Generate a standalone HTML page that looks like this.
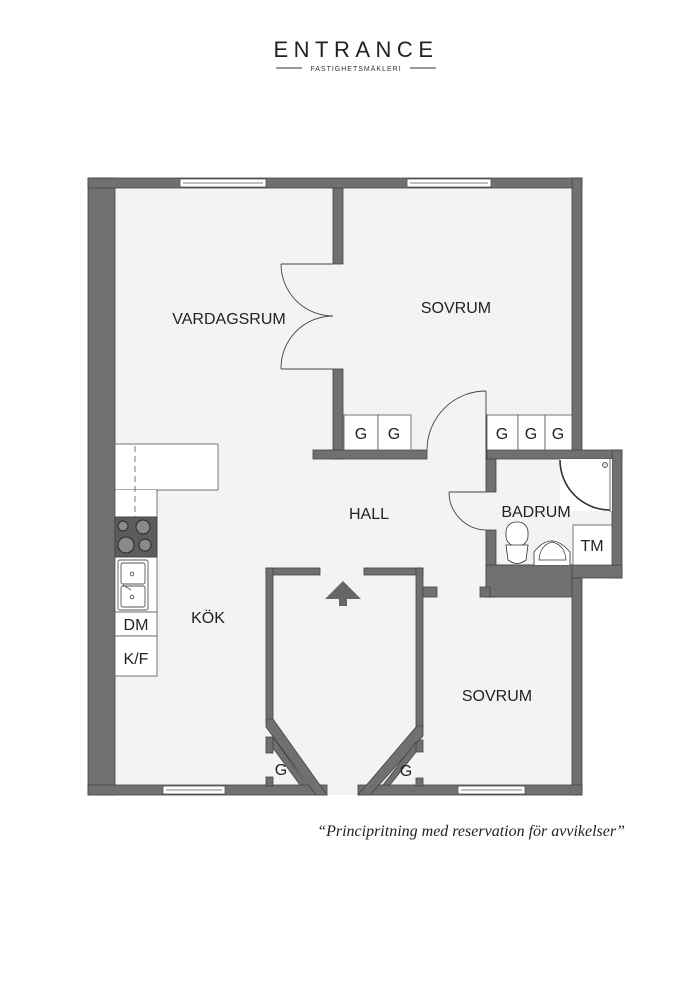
<!DOCTYPE html>
<html><head><meta charset="utf-8"><style>
html,body{margin:0;padding:0;background:#fff;}
svg{display:block}
</style></head><body>
<svg width="700" height="991" viewBox="0 0 700 991" xmlns="http://www.w3.org/2000/svg" font-family="'Liberation Sans', sans-serif">
<!-- header -->
<text x="356" y="57" text-anchor="middle" font-size="22" letter-spacing="5.5" fill="#222">ENTRANCE</text>
<line x1="276" y1="68" x2="302" y2="68" stroke="#333" stroke-width="1"/>
<line x1="410" y1="68" x2="436" y2="68" stroke="#333" stroke-width="1"/>
<text x="356" y="71" text-anchor="middle" font-size="7" letter-spacing="1" fill="#333">FASTIGHETSMÄKLERI</text>

<!-- floor -->
<rect x="88" y="178" width="494" height="617" fill="#f3f3f3"/>
<rect x="486" y="450" width="136" height="128" fill="#f3f3f3"/>

<g fill="#707070" stroke="#444" stroke-width="0.8">
<rect x="88" y="178" width="27" height="617"/>
<rect x="88" y="178" width="494" height="10"/>
<rect x="572" y="178" width="10" height="272"/>
<rect x="572" y="578" width="10" height="217"/>
<rect x="88" y="785" width="239" height="10"/>
<rect x="358" y="785" width="224" height="10"/>
<rect x="333" y="188" width="10" height="76"/>
<rect x="333" y="369" width="10" height="90"/>
<rect x="313" y="450" width="114" height="9"/>
<rect x="486" y="450" width="136" height="9"/>
<rect x="486" y="415" width="1" height="44"/>
<rect x="612" y="450" width="10" height="128"/>
<rect x="486" y="459" width="10" height="33"/>
<rect x="486" y="530" width="10" height="67"/>
<rect x="486" y="565" width="136" height="13"/>
<rect x="486" y="565" width="86" height="32"/>
<rect x="480" y="587" width="10" height="10"/>
<rect x="266" y="568" width="54" height="7"/>
<rect x="266" y="568" width="7" height="153"/>
<rect x="364" y="568" width="59" height="7"/>
<rect x="416" y="568" width="7" height="160"/>
<rect x="423" y="587" width="14" height="10"/>
<rect x="266" y="737" width="7" height="16"/>
<rect x="266" y="777" width="7" height="9"/>
<rect x="416" y="740" width="7" height="12"/>
<rect x="416" y="778" width="7" height="8"/>
<polygon points="266,719 273,719 327,795 316,795 266,727"/>
<polygon points="416,727 423,725 423,736 370,795 358,795"/>
<polygon points="273,737 307,785 300,785 273,748"/>
<polygon points="416,742 383,785 390,785 416,752"/>
</g>

<g fill="#fff" stroke="#555" stroke-width="0.8">
<rect x="180" y="179" width="86" height="8"/>
<line x1="183" y1="183" x2="263" y2="183"/>
<rect x="407" y="179" width="84" height="8"/>
<line x1="410" y1="183" x2="488" y2="183"/>
<rect x="163" y="786" width="62" height="8"/>
<line x1="166" y1="790" x2="222" y2="790"/>
<rect x="458" y="786" width="67" height="8"/>
<line x1="461" y1="790" x2="522" y2="790"/>
</g>

<g fill="none" stroke="#444" stroke-width="0.9">
<line x1="281" y1="264" x2="333" y2="264"/>
<path d="M281,264 A52,52 0 0 0 333,316"/>
<line x1="281" y1="369" x2="333" y2="369"/>
<path d="M281,369 A52,52 0 0 1 333,316"/>
<line x1="486" y1="391" x2="486" y2="450"/>
<path d="M486,391 A59,59 0 0 0 427,450"/>
<line x1="449" y1="492" x2="486" y2="492"/>
<path d="M449,492 A38,38 0 0 0 486,530"/>
</g>

<g fill="#fff" stroke="#555" stroke-width="0.8">
<rect x="344" y="415" width="34" height="35"/>
<rect x="378" y="415" width="33" height="35"/>
<rect x="487" y="415" width="31" height="35"/>
<rect x="518" y="415" width="27" height="35"/>
<rect x="545" y="415" width="27" height="35"/>
<rect x="573" y="525" width="39" height="40"/>
<rect x="115" y="444" width="103" height="46"/>
<rect x="115" y="490" width="42" height="27"/>
<rect x="115" y="557" width="42" height="55"/>
<rect x="115" y="612" width="42" height="24"/>
<rect x="115" y="636" width="42" height="40"/>
</g>
<rect x="116" y="490" width="40" height="2" fill="#fff"/>
<line x1="135" y1="446" x2="135" y2="517" stroke="#555" stroke-width="0.8" stroke-dasharray="6,4"/>
<rect x="115" y="517" width="42" height="40" fill="#5c5c5c" stroke="#444"/>
<g fill="#8a8a8a" stroke="#333" stroke-width="1.2">
<circle cx="123" cy="526" r="5"/><circle cx="143" cy="527" r="7"/>
<circle cx="126" cy="545" r="8"/><circle cx="145" cy="545" r="6"/>
</g>
<g fill="none" stroke="#555" stroke-width="0.9">
<rect x="118" y="560" width="30" height="50" rx="2"/>
<rect x="121" y="563" width="24" height="21" rx="2"/>
<rect x="121" y="586" width="24" height="21" rx="2"/>
<circle cx="132" cy="574" r="1.8"/><circle cx="132" cy="597" r="1.8"/>
<line x1="123" y1="585" x2="131" y2="590"/>
</g>
<g fill="#fff" stroke="#333" stroke-width="1">
<path d="M560,459 L612,459 L612,511 L560,511 Z" stroke="none"/>
<path d="M560,460 A50,50 0 0 0 610,510" fill="none" stroke-width="1.6"/>
<line x1="610" y1="459" x2="610" y2="512" stroke-width="0.7"/>
<circle cx="605" cy="465" r="2.5" fill="#ddd" stroke-width="0.7"/>
<rect x="506" y="522" width="22" height="24" rx="10" stroke-width="0.8"/>
<path d="M506,545 L528,545 L526,560 Q517,567 508,560 Z" stroke-width="0.8"/>
<path d="M534,565 L534,552 Q551,530 570,552 L570,565" stroke-width="0.8"/>
<path d="M539,560 Q540,545 552,542 Q565,545 566,560 Z" stroke-width="0.7" fill="none"/>
</g>
<polygon points="325,599 343,581 361,599" fill="#666"/>
<rect x="339" y="598" width="8" height="8" fill="#666"/>

<g font-size="16" fill="#222" text-anchor="middle">
<text x="229" y="324">VARDAGSRUM</text>
<text x="456" y="313">SOVRUM</text>
<text x="369" y="519">HALL</text>
<text x="536" y="517">BADRUM</text>
<text x="208" y="623">KÖK</text>
<text x="497" y="701">SOVRUM</text>
<text x="592" y="551">TM</text>
<text x="136" y="630">DM</text>
<text x="136" y="664">K/F</text>
<text x="361" y="439">G</text>
<text x="394" y="439">G</text>
<text x="502" y="439">G</text>
<text x="531" y="439">G</text>
<text x="558" y="439">G</text>
<text x="281" y="775">G</text>
<text x="406" y="776">G</text>
</g>
<text x="625" y="836" text-anchor="end" font-family="'Liberation Serif', serif" font-style="italic" font-size="16" fill="#222">“Principritning med reservation för avvikelser”</text>
</svg>
</body></html>
